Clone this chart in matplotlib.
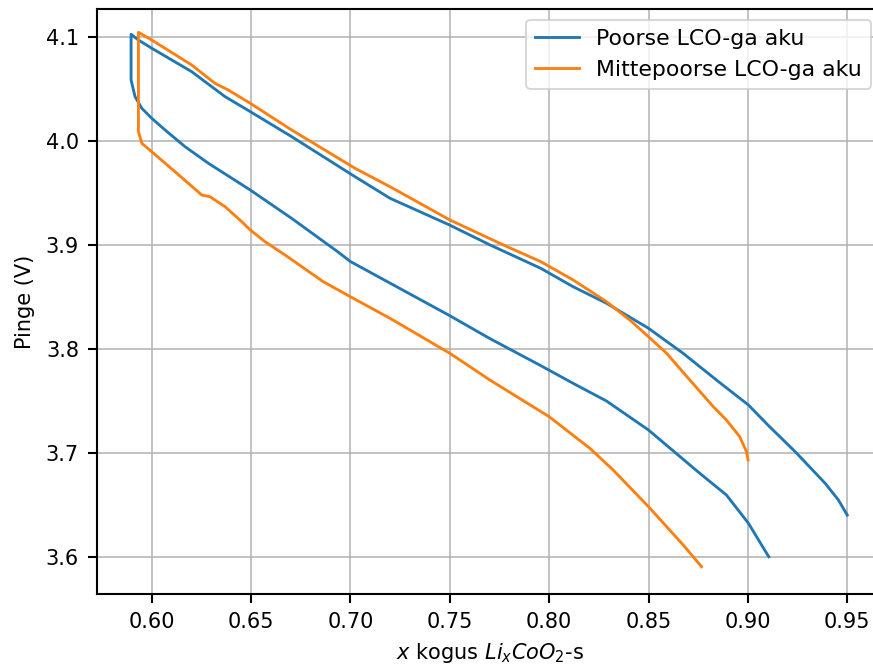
import matplotlib
matplotlib.use("Agg")
import matplotlib.pyplot as plt

# Poorse LCO-ga aku (blue): lower branch (from its end, reversed) -> vertical -> upper branch
blue_x = [0.9105, 0.9054, 0.9003, 0.8892, 0.8758, 0.8500, 0.8289, 0.8121,
          0.7958, 0.7702, 0.7500, 0.7000, 0.6939, 0.6704, 0.6496, 0.6285, 0.6168,
          0.6067, 0.6000, 0.5950, 0.5916, 0.5896, 0.5896,
          0.5933, 0.6000, 0.6201, 0.6369, 0.6496, 0.6704, 0.7023, 0.7199, 0.7500,
          0.7702, 0.7958, 0.8121, 0.8289, 0.8500, 0.8674, 0.8842, 0.9003, 0.9106,
          0.9238, 0.9389, 0.9456, 0.9500]
blue_y = [3.6005, 3.6165, 3.6326, 3.6598, 3.6806, 3.7222, 3.7500, 3.7670,
          3.7840, 3.8100, 3.8320, 3.8840, 3.8930, 3.9255, 3.9527, 3.9784, 3.9943,
          4.0104, 4.0216, 4.0312, 4.0424, 4.0584, 4.1023,
          4.0968, 4.0889, 4.0664, 4.0424, 4.0280, 4.0040, 3.9655, 3.9448, 3.9190,
          3.9000, 3.8775, 3.8598, 3.8439, 3.8199, 3.7959, 3.7702, 3.7462, 3.7260,
          3.7014, 3.6710, 3.6549, 3.6405]

# Mittepoorse LCO-ga aku (orange)
orange_x = [0.8767, 0.8675, 0.8500, 0.8322, 0.8205, 0.8000, 0.7702,
            0.7500, 0.7199, 0.7000, 0.6863, 0.6671, 0.6570, 0.6496, 0.6453, 0.6369,
            0.6293, 0.6252, 0.6117, 0.6000, 0.5950, 0.5933, 0.5933,
            0.6000, 0.6201, 0.6318, 0.6385, 0.6496, 0.6704, 0.7023, 0.7199, 0.7500,
            0.7769, 0.7958, 0.8121, 0.8289, 0.8406, 0.8500, 0.8591, 0.8708,
            0.8826, 0.8892, 0.8959, 0.8993, 0.9001]
orange_y = [3.5909, 3.6117, 3.6485, 3.6838, 3.7046, 3.7350, 3.7702,
            3.7959, 3.8295, 3.8502, 3.8647, 3.8903, 3.9031, 3.9143, 3.9223, 3.9367,
            3.9463, 3.9479, 3.9703, 3.9895, 3.9976, 4.0087, 4.1042,
            4.0968, 4.0728, 4.0552, 4.0488, 4.0360, 4.0104, 3.9736, 3.9559, 3.9240,
            3.9000, 3.8839, 3.8663, 3.8454, 3.8278, 3.8118, 3.7959, 3.7702,
            3.7446, 3.7318, 3.7158, 3.7014, 3.6934]

labels = ["Poorse LCO-ga aku", "Mittepoorse LCO-ga aku"]

DPI = 136.4
W, H = 873, 667
fig = plt.figure(figsize=(W / DPI, H / DPI), dpi=DPI)
ax = fig.add_axes([96.7 / W, (H - 594) / H, (883 - 96.7) / W, (594 - 9.3) / H])

ax.plot(blue_x, blue_y, color="#1f77b4", label=labels[0], solid_joinstyle="round")
ax.plot(orange_x, orange_y, color="#ff7f0e", label=labels[1], solid_joinstyle="round")

ax.set_xlim(0.5723, 0.968)
ax.set_ylim(3.5647, 4.1263)
ax.set_xticks([0.60, 0.65, 0.70, 0.75, 0.80, 0.85, 0.90, 0.95])
ax.set_yticks([3.6, 3.7, 3.8, 3.9, 4.0, 4.1])
ax.tick_params(labelsize=11, length=4.9, width=1.1, pad=4.5)
ax.spines["right"].set_visible(False)
for s in ax.spines.values():
    s.set_linewidth(1.1)
ax.grid(True)
ax.set_xlabel("$x$ kogus $Li_xCoO_2$-s", fontsize=11, labelpad=5.0)
ax.set_ylabel("Pinge (V)", fontsize=11, labelpad=5.5)
ax.legend(loc="upper right", bbox_to_anchor=(871 / W, (H - 20) / H),
          bbox_transform=fig.transFigure, borderaxespad=0, fontsize=11.6)

fig.savefig("out.png", dpi=DPI)
